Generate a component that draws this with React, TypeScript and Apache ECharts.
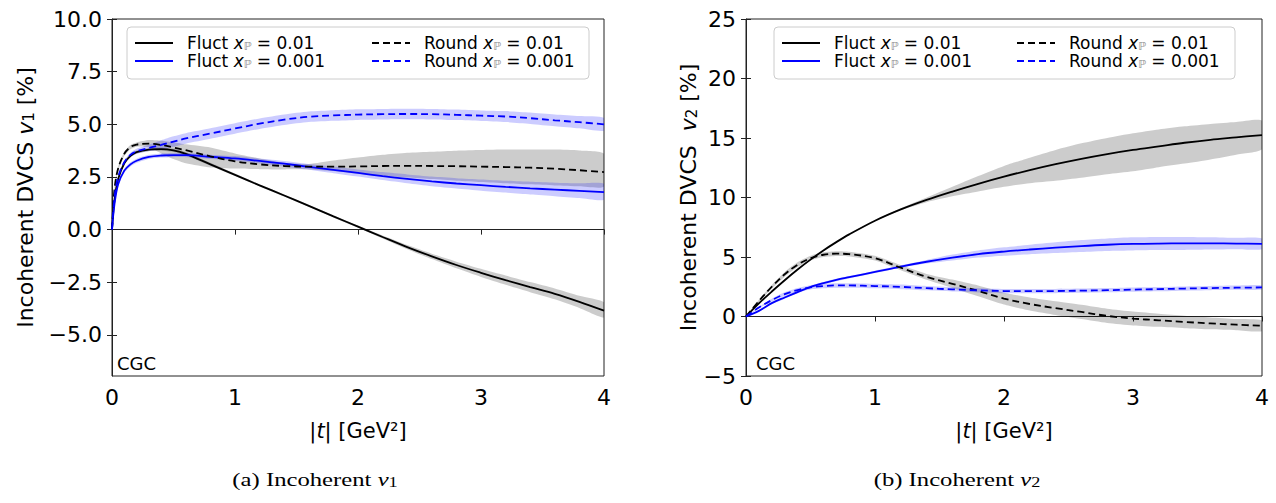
import React, { useEffect, useRef } from 'react';
import * as echarts from 'echarts';

// ---------- Data: left panel (v1) ----------
const T1 = [0, 0.02, 0.05, 0.1, 0.15, 0.2, 0.3, 0.4, 0.5, 0.6, 0.8, 1.0, 1.2, 1.4, 1.6, 1.8, 2.0, 2.2, 2.4, 2.6, 2.8, 3.0, 3.2, 3.4, 3.6, 3.8, 4.0];

const V1_FLUCT_01 = [0, 1.4, 2.4, 3.15, 3.5, 3.68, 3.8, 3.82, 3.76, 3.6, 3.1, 2.6, 2.1, 1.62, 1.13, 0.63, 0.14, -0.35, -0.83, -1.27, -1.68, -2.05, -2.4, -2.73, -3.05, -3.43, -3.85];
const V1_FLUCT_01_LO = [0, 1.35, 2.33, 3.08, 3.42, 3.6, 3.72, 3.74, 3.68, 3.52, 3.03, 2.54, 2.05, 1.57, 1.08, 0.58, 0.09, -0.42, -0.93, -1.4, -1.84, -2.25, -2.62, -2.97, -3.31, -3.72, -4.17];
const V1_FLUCT_01_HI = [0, 1.45, 2.47, 3.22, 3.58, 3.76, 3.88, 3.9, 3.84, 3.68, 3.17, 2.66, 2.15, 1.67, 1.18, 0.68, 0.19, -0.28, -0.73, -1.14, -1.52, -1.86, -2.18, -2.49, -2.79, -3.14, -3.45];

const V1_ROUND_01 = [0, 1.9, 2.9, 3.6, 3.92, 4.04, 4.08, 4.02, 3.9, 3.77, 3.48, 3.24, 3.1, 3.02, 2.99, 2.99, 3.0, 3.02, 3.03, 3.02, 3.01, 2.99, 2.97, 2.94, 2.89, 2.82, 2.73];
const V1_ROUND_01_LO = [0, 1.8, 2.8, 3.5, 3.82, 3.94, 3.9, 3.62, 3.35, 3.15, 2.95, 2.9, 2.87, 2.86, 2.86, 2.78, 2.65, 2.55, 2.48, 2.4, 2.32, 2.26, 2.2, 2.15, 2.1, 2.06, 2.05];
const V1_ROUND_01_HI = [0, 2.0, 3.0, 3.7, 4.02, 4.14, 4.25, 4.22, 4.15, 4.05, 3.9, 3.62, 3.38, 3.18, 3.12, 3.28, 3.42, 3.55, 3.65, 3.7, 3.75, 3.78, 3.8, 3.8, 3.8, 3.76, 3.6];

const V1_FLUCT_001 = [0, 1.2, 2.15, 2.8, 3.1, 3.27, 3.45, 3.52, 3.54, 3.54, 3.46, 3.38, 3.26, 3.13, 2.98, 2.84, 2.69, 2.54, 2.41, 2.29, 2.19, 2.11, 2.03, 1.96, 1.9, 1.84, 1.78];
const V1_FLUCT_001_LO = [0, 1.1, 2.05, 2.7, 3.0, 3.17, 3.35, 3.42, 3.44, 3.44, 3.36, 3.27, 3.14, 3.0, 2.84, 2.68, 2.52, 2.35, 2.2, 2.06, 1.95, 1.85, 1.76, 1.67, 1.59, 1.5, 1.42];
const V1_FLUCT_001_HI = [0, 1.3, 2.25, 2.9, 3.2, 3.37, 3.55, 3.62, 3.64, 3.64, 3.56, 3.49, 3.38, 3.26, 3.12, 3.0, 2.86, 2.73, 2.62, 2.52, 2.44, 2.38, 2.32, 2.27, 2.23, 2.2, 2.18];

const V1_ROUND_001 = [0, 1.5, 2.5, 3.2, 3.55, 3.72, 3.88, 4.02, 4.18, 4.33, 4.56, 4.8, 5.03, 5.22, 5.36, 5.42, 5.46, 5.48, 5.49, 5.48, 5.45, 5.41, 5.37, 5.29, 5.19, 5.1, 5.0];
const V1_ROUND_001_LO = [0, 1.45, 2.43, 3.12, 3.45, 3.6, 3.73, 3.8, 3.93, 4.08, 4.31, 4.55, 4.78, 4.97, 5.11, 5.17, 5.21, 5.23, 5.24, 5.23, 5.2, 5.16, 5.11, 5.02, 4.91, 4.81, 4.7];
const V1_ROUND_001_HI = [0, 1.55, 2.57, 3.28, 3.65, 3.84, 4.03, 4.24, 4.43, 4.58, 4.81, 5.05, 5.28, 5.47, 5.61, 5.67, 5.71, 5.73, 5.74, 5.73, 5.7, 5.66, 5.63, 5.56, 5.47, 5.39, 5.3];

// ---------- Data: right panel (v2) ----------
const T2 = [0, 0.1, 0.2, 0.3, 0.4, 0.5, 0.6, 0.7, 0.8, 1.0, 1.2, 1.4, 1.6, 1.8, 2.0, 2.2, 2.4, 2.6, 2.8, 3.0, 3.2, 3.4, 3.6, 3.8, 4.0];

const V2_FLUCT_01 = [0, 1.1, 2.1, 3.05, 3.95, 4.78, 5.55, 6.25, 6.9, 8.05, 9.0, 9.8, 10.5, 11.15, 11.75, 12.3, 12.8, 13.25, 13.65, 14.0, 14.3, 14.6, 14.85, 15.05, 15.25];
const V2_FLUCT_01_LO = [0, 1.05, 2.05, 3.0, 3.9, 4.73, 5.5, 6.2, 6.85, 8.0, 8.92, 9.6, 10.1, 10.5, 10.9, 11.2, 11.4, 11.65, 11.95, 12.2, 12.55, 12.85, 13.2, 13.6, 14.05];
const V2_FLUCT_01_HI = [0, 1.15, 2.15, 3.1, 4.0, 4.83, 5.6, 6.3, 6.95, 8.1, 9.1, 10.0, 10.9, 11.8, 12.65, 13.35, 14.0, 14.55, 15.0, 15.4, 15.72, 15.98, 16.18, 16.34, 16.45];

const V2_ROUND_01 = [0, 1.3, 2.5, 3.55, 4.35, 4.9, 5.19, 5.28, 5.24, 4.9, 4.1, 3.33, 2.75, 2.15, 1.5, 1.05, 0.7, 0.38, 0.05, -0.17, -0.32, -0.46, -0.58, -0.69, -0.78];
const V2_ROUND_01_LO = [0, 1.2, 2.35, 3.35, 4.15, 4.7, 4.99, 5.08, 5.04, 4.7, 3.88, 3.08, 2.4, 1.7, 1.0, 0.5, 0.12, -0.22, -0.55, -0.75, -0.87, -0.98, -1.08, -1.16, -1.23];
const V2_ROUND_01_HI = [0, 1.4, 2.65, 3.75, 4.55, 5.1, 5.39, 5.48, 5.44, 5.1, 4.32, 3.58, 3.1, 2.6, 2.0, 1.6, 1.28, 0.98, 0.65, 0.41, 0.23, 0.06, -0.08, -0.22, -0.33];

const V2_FLUCT_001 = [0, 0.47, 1.12, 1.6, 2.05, 2.48, 2.8, 3.07, 3.3, 3.75, 4.2, 4.6, 4.95, 5.25, 5.46, 5.63, 5.78, 5.92, 6.03, 6.1, 6.13, 6.14, 6.14, 6.13, 6.11];
const V2_FLUCT_001_LO = [0, 0.42, 1.04, 1.5, 1.95, 2.38, 2.7, 2.97, 3.2, 3.65, 4.1, 4.45, 4.7, 4.95, 5.11, 5.23, 5.33, 5.42, 5.51, 5.55, 5.58, 5.59, 5.62, 5.65, 5.66];
const V2_FLUCT_001_HI = [0, 0.52, 1.2, 1.7, 2.15, 2.58, 2.9, 3.17, 3.4, 3.85, 4.3, 4.75, 5.2, 5.55, 5.81, 6.03, 6.23, 6.42, 6.55, 6.65, 6.68, 6.69, 6.66, 6.61, 6.56];

const V2_ROUND_001 = [0, 0.75, 1.38, 1.88, 2.22, 2.45, 2.56, 2.61, 2.61, 2.56, 2.49, 2.38, 2.28, 2.2, 2.14, 2.13, 2.14, 2.17, 2.21, 2.26, 2.3, 2.35, 2.39, 2.42, 2.44];
const V2_ROUND_001_LO = [0, 0.68, 1.26, 1.73, 2.05, 2.27, 2.37, 2.42, 2.42, 2.37, 2.3, 2.2, 2.1, 2.02, 1.96, 1.95, 1.96, 1.99, 2.03, 2.08, 2.12, 2.17, 2.21, 2.24, 2.26];
const V2_ROUND_001_HI = [0, 0.82, 1.5, 2.03, 2.39, 2.63, 2.75, 2.8, 2.8, 2.75, 2.68, 2.56, 2.46, 2.38, 2.32, 2.31, 2.32, 2.35, 2.39, 2.44, 2.48, 2.53, 2.57, 2.6, 2.62];

// ---------- Labels / ticks ----------
const NAME_F01 = 'Fluct xℙ = 0.01';
const NAME_F001 = 'Fluct xℙ = 0.001';
const NAME_R01 = 'Round xℙ = 0.01';
const NAME_R001 = 'Round xℙ = 0.001';
const X_TICKS = [0, 1, 2, 3, 4];
const Y1_TICKS = [-5, -2.5, 0, 2.5, 5, 7.5, 10];
const Y2_TICKS = [-5, 0, 5, 10, 15, 20, 25];
const CAPTION_A = '(a) Incoherent ';
const CAPTION_B = '(b) Incoherent ';

const SANS = 'DejaVu Sans';
const SERIF = 'Liberation Serif';
const BLACK = '#000000';
const BLUE = '#0000ff';
const GRAY_BAND = 'rgba(0,0,0,0.2)';
const BLUE_BAND = 'rgba(0,0,255,0.2)';
const AXIS_COLOR = '#222222';

const pairs = (t: number[], v: number[]) => t.map((x, i) => [x, v[i]]);

function bandSeries(id: string, t: number[], lo: number[], hi: number[], color: string, gi: number) {
  const n = t.length;
  return {
    type: 'custom', name: id, xAxisIndex: gi, yAxisIndex: gi * 2, silent: true, z: 1, clip: true,
    data: t.map((x, i) => [x, lo[i], hi[i]]),
    encode: { x: 0, y: [1, 2] },
    renderItem: (params: any, api: any) => {
      if (params.dataIndexInside !== 0) return null;
      const upper: number[][] = [];
      const lower: number[][] = [];
      for (let i = 0; i < n; i++) {
        const x = api.value(0, i);
        lower.push(api.coord([x, api.value(1, i)]));
        upper.push(api.coord([x, api.value(2, i)]));
      }
      const points = lower.concat(upper.reverse());
      return { type: 'polygon', shape: { points, smooth: 0.2 }, style: { fill: color, stroke: 'none' } };
    },
  };
}

function lineSeries(name: string, t: number[], v: number[], color: string, dashed: boolean, gi: number) {
  return {
    type: 'line', name, xAxisIndex: gi, yAxisIndex: gi * 2, data: pairs(t, v), symbol: 'none',
    smooth: 0.35, z: 3, color,
    lineStyle: { color, width: 1.8, type: dashed ? [7, 4] : 'solid' },
  };
}

const legendRich = {
  x: { fontFamily: SANS, fontSize: 17, fontStyle: 'italic', color: '#000', lineHeight: 18 },
  p: { fontFamily: SANS, fontSize: 11, color: '#8c8c8c', verticalAlign: 'bottom', lineHeight: 18 },
  n: { fontFamily: SANS, fontSize: 17, color: '#000', lineHeight: 18 },
};
const legendFmt = (name: string) => {
  const [a, b] = name.split('xℙ');
  return `{n|${a}}{x|x}{p|ℙ}{n|${b}}`;
};
function legend(left: number, top: number, data: string[]) {
  return {
    orient: 'vertical', left, top, data, padding: 0, itemGap: 0, itemWidth: 38, itemHeight: 12,
    selectedMode: false, formatter: legendFmt,
    itemStyle: { opacity: 0, borderWidth: 0 },
    textStyle: { fontFamily: SANS, fontSize: 17, color: '#000', lineHeight: 18, padding: [0, 0, 0, 9], rich: legendRich },
  };
}

const tickFmt1 = (v: number) => (v < 0 ? '−' : '') + Math.abs(v).toFixed(1);
const tickFmt2 = (v: number) => (v < 0 ? '−' : '') + String(Math.abs(v));

function xAxis(gi: number) {
  return {
    type: 'value', gridIndex: gi, min: 0, max: 4, interval: 1,
    name: '|{i|t}| [GeV²]', nameLocation: 'middle', nameGap: 44,
    nameTextStyle: {
      fontFamily: SANS, fontSize: 21, color: '#000', verticalAlign: 'top',
      rich: { i: { fontFamily: SANS, fontSize: 21, fontStyle: 'italic', color: '#000' } },
    },
    axisLine: { show: true, lineStyle: { color: AXIS_COLOR, width: 1 } },
    axisTick: { show: true, length: 5, lineStyle: { color: AXIS_COLOR }, customValues: X_TICKS },
    axisLabel: { fontFamily: SANS, fontSize: 22, color: '#000', margin: 10, customValues: X_TICKS },
    splitLine: { show: false },
  };
}

function yAxes(gi: number, min: number, max: number, ticks: number[], fmt: (v: number) => string, name: string, gap: number) {
  return [
    {
      type: 'value', gridIndex: gi, min, max, position: 'left',
      name, nameLocation: 'middle', nameGap: gap, nameRotate: 90,
      nameTextStyle: {
        fontFamily: SANS, fontSize: 22, color: '#000',
        rich: {
          i: { fontFamily: SANS, fontSize: 22, fontStyle: 'italic', color: '#000' },
          s: { fontFamily: SANS, fontSize: 15, color: '#000', verticalAlign: 'bottom' },
        },
      },
      axisLine: { show: true, onZero: false, lineStyle: { color: AXIS_COLOR, width: 1 } },
      axisTick: { show: true, length: 5, lineStyle: { color: AXIS_COLOR }, customValues: ticks },
      axisLabel: { fontFamily: SANS, fontSize: 22, color: '#000', margin: 10, formatter: fmt, customValues: ticks },
      splitLine: { show: false },
    },
    {
      type: 'value', gridIndex: gi, min, max, position: 'right',
      axisLine: { show: false },
      axisTick: { show: true, length: 5, lineStyle: { color: AXIS_COLOR }, customValues: ticks },
      axisLabel: { show: false, customValues: ticks },
      splitLine: { show: false },
    },
  ];
}

function legendBox(x: number, y: number, w: number, h: number) {
  return {
    type: 'rect', shape: { x, y, width: w, height: h, r: 4 }, z: 3,
    style: { fill: 'rgba(255,255,255,0.8)', stroke: '#cccccc', lineWidth: 1 },
  };
}

function caption(cx: number, y: number, base: string, sub: string) {
  return {
    type: 'text', x: cx, y, z: 5, scaleX: 1.3,
    style: {
      text: `{n|${base}}{i|v}{s|${sub}}`, align: 'center', verticalAlign: 'middle',
      rich: {
        n: { fontFamily: SERIF, fontSize: 19, fill: '#000' },
        i: { fontFamily: SERIF, fontSize: 19, fontStyle: 'italic', fill: '#000' },
        s: { fontFamily: SERIF, fontSize: 14, fill: '#000', verticalAlign: 'bottom' },
      },
    },
  };
}

function cgc(x: number, y: number) {
  return { type: 'text', x, y, z: 5, style: { text: 'CGC', fontFamily: SANS, fontSize: 18, fill: '#000' } };
}

export default function App() {
  const ref = useRef<HTMLDivElement>(null);
  useEffect(() => {
    if (!ref.current) return;
    const chart = echarts.init(ref.current, undefined, { renderer: 'svg' });
    const option: any = {
      animation: false,
      backgroundColor: '#ffffff',
      grid: [
        { left: 112, top: 19, width: 492, height: 357, show: true, borderColor: AXIS_COLOR, borderWidth: 1, backgroundColor: 'transparent' },
        { left: 746, top: 19, width: 516, height: 357, show: true, borderColor: AXIS_COLOR, borderWidth: 1, backgroundColor: 'transparent' },
      ],
      xAxis: [xAxis(0), xAxis(1)],
      yAxis: [
        ...yAxes(0, -6.95, 10, Y1_TICKS, tickFmt1, 'Incoherent DVCS {i|v}{s|1} [%]', 76),
        ...yAxes(1, -5, 25, Y2_TICKS, tickFmt2, 'Incoherent DVCS  {i|v}{s|2} [%]', 47),
      ],
      legend: [
        legend(134, 34, [NAME_F01, NAME_F001]),
        legend(371, 34, [NAME_R01, NAME_R001]),
        legend(781, 34, [NAME_F01, NAME_F001]),
        legend(1016, 34, [NAME_R01, NAME_R001]),
      ],
      graphic: [
        legendBox(127, 27, 462, 52),
        legendBox(774, 27, 461, 52),
        cgc(117, 354),
        cgc(756, 354),
        caption(315, 480, CAPTION_A, '1'),
        caption(957, 480, CAPTION_B, '2'),
      ],
      series: [
        bandSeries('b1r01', T1, V1_ROUND_01_LO, V1_ROUND_01_HI, GRAY_BAND, 0),
        bandSeries('b1f01', T1, V1_FLUCT_01_LO, V1_FLUCT_01_HI, GRAY_BAND, 0),
        bandSeries('b1f001', T1, V1_FLUCT_001_LO, V1_FLUCT_001_HI, BLUE_BAND, 0),
        bandSeries('b1r001', T1, V1_ROUND_001_LO, V1_ROUND_001_HI, BLUE_BAND, 0),
        lineSeries(NAME_F01, T1, V1_FLUCT_01, BLACK, false, 0),
        lineSeries(NAME_F001, T1, V1_FLUCT_001, BLUE, false, 0),
        lineSeries(NAME_R01, T1, V1_ROUND_01, BLACK, true, 0),
        lineSeries(NAME_R001, T1, V1_ROUND_001, BLUE, true, 0),

        bandSeries('b2r01', T2, V2_ROUND_01_LO, V2_ROUND_01_HI, GRAY_BAND, 1),
        bandSeries('b2f01', T2, V2_FLUCT_01_LO, V2_FLUCT_01_HI, GRAY_BAND, 1),
        bandSeries('b2f001', T2, V2_FLUCT_001_LO, V2_FLUCT_001_HI, BLUE_BAND, 1),
        bandSeries('b2r001', T2, V2_ROUND_001_LO, V2_ROUND_001_HI, BLUE_BAND, 1),
        lineSeries(NAME_F01, T2, V2_FLUCT_01, BLACK, false, 1),
        lineSeries(NAME_F001, T2, V2_FLUCT_001, BLUE, false, 1),
        lineSeries(NAME_R01, T2, V2_ROUND_01, BLACK, true, 1),
        lineSeries(NAME_R001, T2, V2_ROUND_001, BLUE, true, 1),
      ],
    };
    chart.setOption(option);
    return () => chart.dispose();
  }, []);
  return <div ref={ref} style={{ position: 'absolute', left: 0, top: 0, width: 1276, height: 503 }} />;
}
